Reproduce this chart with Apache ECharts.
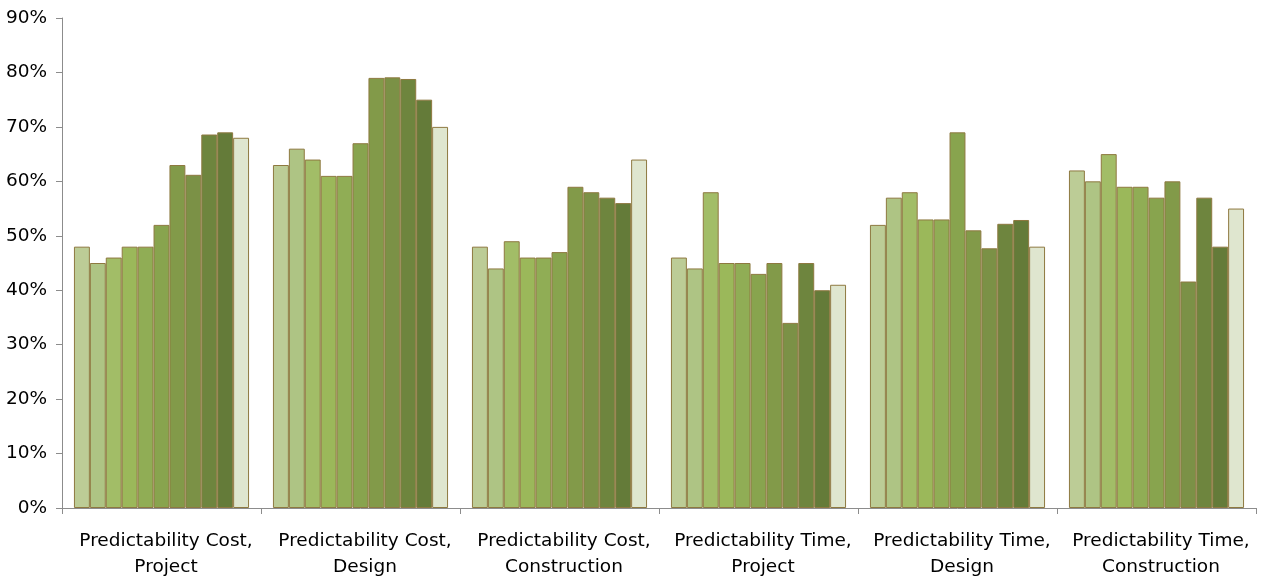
<!DOCTYPE html>
<html>
<head>
<meta charset="utf-8">
<script src="https://cdn.jsdelivr.net/npm/echarts@6/dist/echarts.min.js"></script>
<style>
  html, body { margin: 0; padding: 0; background: #fff; }
  #chart { width: 1261px; height: 580px; }
</style>
</head>
<body>
<div id="chart"></div>
<script>
// categories on the x axis
var categories = [
  'Predictability Cost,\nProject',
  'Predictability Cost,\nDesign',
  'Predictability Cost,\nConstruction',
  'Predictability Time,\nProject',
  'Predictability Time,\nDesign',
  'Predictability Time,\nConstruction'
];

// eleven series, one value (%) per category
var s1  = [48, 63, 48, 46, 52, 62];
var s2  = [45, 66, 44, 44, 57, 60];
var s3  = [46, 64, 49, 58, 58, 65];
var s4  = [48, 61, 46, 45, 53, 59];
var s5  = [48, 61, 46, 45, 53, 59];
var s6  = [52, 67, 47, 43, 69, 57];
var s7  = [63, 79, 59, 45, 51, 60];
var s8  = [61.2, 79.1, 58, 34, 47.7, 41.6];
var s9  = [68.6, 78.8, 57, 45, 52.2, 57];
var s10 = [69, 75, 56, 40, 52.9, 48];
var s11 = [68, 70, 64, 41, 48, 55];

var seriesData = [s1, s2, s3, s4, s5, s6, s7, s8, s9, s10, s11];
var colors = ['#bccc96', '#aec484', '#a2bd67', '#9bb85a', '#90ad55', '#88a44e',
              '#829a49', '#7b9146', '#6e853e', '#647b39', '#dfe6cf'];

var chart = echarts.init(document.getElementById('chart'));
chart.setOption({
  animation: false,
  textStyle: { fontFamily: 'DejaVu Sans' },
  grid: { left: 62, right: 5, top: 18, bottom: 72 },
  xAxis: {
    type: 'category',
    data: categories,
    axisLine: { lineStyle: { color: '#8c8c8c', width: 1 } },
    axisTick: { show: true, length: 6, lineStyle: { color: '#8c8c8c' } },
    axisLabel: {
      color: '#000',
      fontSize: 18.5,
      lineHeight: 26,
      margin: 20,
      padding: [0, 0, 0, 9],
      interval: 0
    }
  },
  yAxis: {
    type: 'value',
    min: 0,
    max: 90,
    interval: 10,
    axisLine: { show: true, lineStyle: { color: '#8c8c8c', width: 1 } },
    axisTick: { show: true, length: 6, lineStyle: { color: '#8c8c8c' } },
    splitLine: { show: false },
    axisLabel: {
      color: '#000',
      fontSize: 18.5,
      margin: 15,
      formatter: '{value}%'
    }
  },
  series: seriesData.map(function (d, i) {
    return {
      name: 'Series ' + (i + 1),
      type: 'bar',
      data: d,
      barGap: '0%',
      barCategoryGap: '12%',
      itemStyle: {
        color: colors[i],
        borderColor: '#8e7940',
        borderWidth: 1
      }
    };
  })
});
</script>
</body>
</html>
